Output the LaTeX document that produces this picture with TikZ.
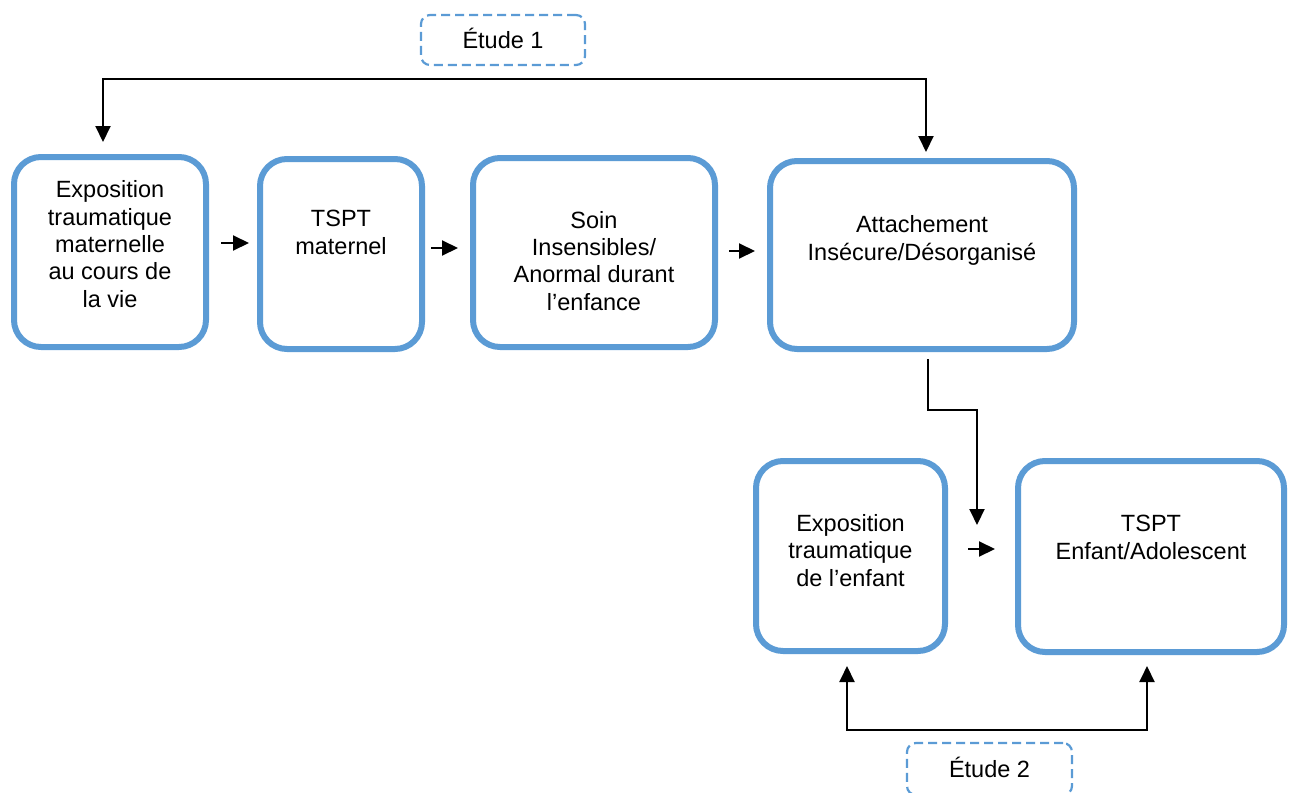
\documentclass[tikz,border=0pt]{standalone}
\usepackage{fontspec}
\setmainfont{Liberation Sans}
\usetikzlibrary{arrows.meta,calc}
\definecolor{boxblue}{HTML}{5B9BD5}
\tikzset{
  box/.style={draw=boxblue, line width=6pt, rounded corners=27pt, inner sep=0pt, fill=white},
  etude/.style={draw=boxblue, line width=2.2pt, dash pattern=on 9pt off 5pt, rounded corners=9pt,
      inner sep=0pt, text height=16.8pt, text depth=0pt, font=\fontsize{23.5}{27.3}\selectfont},
  txt/.style={align=center, inner sep=0pt, anchor=base, font=\fontsize{23.5}{27.3}\selectfont},
  arr/.style={line width=2pt, -{Triangle[length=16pt,width=15pt]}},
  arr2/.style={line width=2pt, {Triangle[length=16pt,width=15pt]}-{Triangle[length=16pt,width=15pt]}},
}
\begin{document}
\begin{tikzpicture}[x=1pt,y=-1pt]
\useasboundingbox (0,0) rectangle (1295,792);
% boxes
\node[box, minimum width=192pt, minimum height=190pt] (b1) at (110,252) {};
\node[box, minimum width=162pt, minimum height=190pt] (b2) at (341,254) {};
\node[box, minimum width=242pt, minimum height=189pt] (b3) at (594,252.5) {};
\node[box, minimum width=304pt, minimum height=188pt] (b4) at (922,255) {};
\node[box, minimum width=189pt, minimum height=190pt] (b5) at (850.5,556) {};
\node[box, minimum width=266pt, minimum height=191pt] (b6) at (1151,556.5) {};
% texts (anchor = baseline of last line)
\node[txt] (t1) at (110,307) {Exposition\\traumatique\\maternelle\\au cours de\\la vie};
\node[txt] (t2) at (341,254) {TSPT\\maternel};
\node[txt] (t3) at (594,310) {Soin\\Insensibles/\\Anormal durant\\l’enfance};
\node[txt] (t4) at (922,260) {Attachement\\Insécure/Désorganisé};
\node[txt] (t5) at (850.5,586) {Exposition\\traumatique\\de l’enfant};
\node[txt] (t6) at (1151,559) {TSPT\\Enfant/Adolescent};
% etude boxes
\node[etude, minimum width=164pt, minimum height=50pt] (e1) at (503,40) {Étude 1};
\node[etude, minimum width=165pt, minimum height=52pt] (e2) at (989.5,769) {Étude 2};
% short arrows
\draw[arr] ($(b1.east)+(12,-9)$) -- ($(b2.west)+(-8,-11)$);
\draw[arr] ($(b2.east)+(6,-6)$) -- ($(b3.west)+(-12,-4.5)$);
\draw[arr] ($(b3.east)+(11,-1.5)$) -- ($(b4.west)+(-12,-4)$);
\draw[arr] ($(b5.east)+(20,-7)$) -- ($(b6.west)+(-20,-7.5)$);
% top connector
\draw[arr2] ($(b1.north)+(-7,-12)$) |- ($(b4.north)+(4,-79)$) -- ($(b4.north)+(4,-6)$);
% middle connector
\draw[arr] ($(b4.south)+(6,7)$) -- ++(0,51) -| ($(b6.west)+(-38,-31.5)$);
% bottom connector
\draw[arr2] ($(b5.south)+(-3.5,12)$) |- ($(b6.south)+(-4,75)$) -- ($(b6.south)+(-4,11)$);
\end{tikzpicture}
\end{document}
